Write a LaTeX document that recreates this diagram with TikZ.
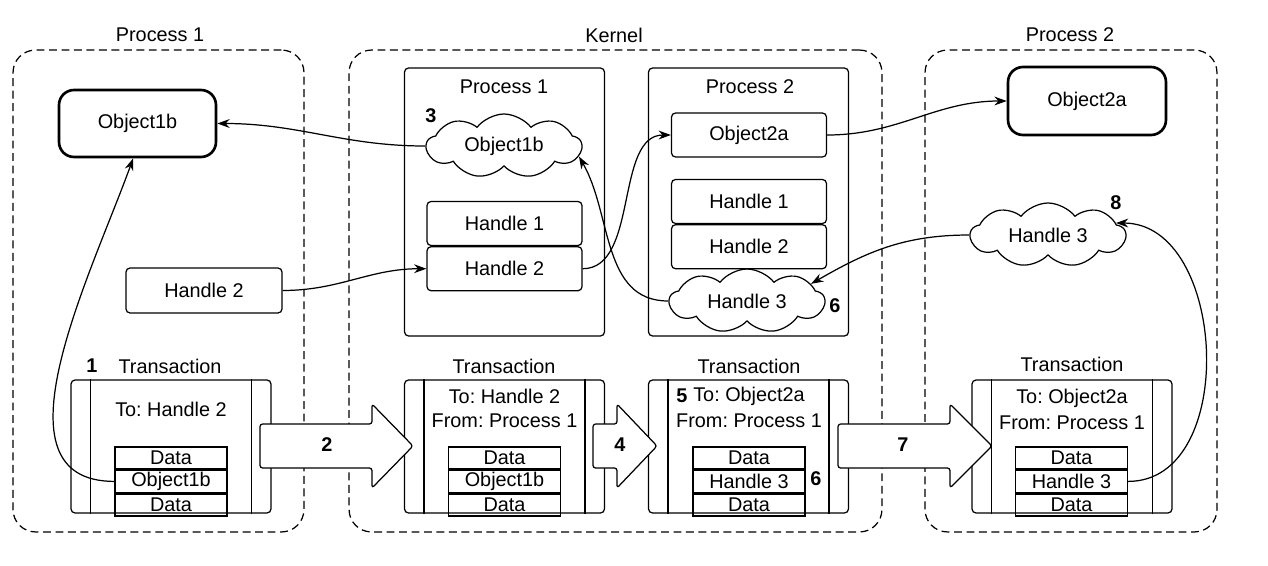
\documentclass[tikz,border=0pt]{standalone}
\usepackage{fontspec}
\setmainfont{Liberation Sans}
\usetikzlibrary{arrows.meta,positioning,shapes.symbols,calc}
\frenchspacing

\begin{document}
\begin{tikzpicture}[
  x=0.02cm,y=-0.02cm,
  font=\fontsize{11.3}{13.5}\selectfont,
  region/.style={draw,dash pattern=on 4.5pt off 2.6pt,rounded corners=0.45cm,line width=0.7pt},
  kbox/.style={draw,rounded corners=0.08cm,line width=0.7pt,minimum width=4cm,minimum height=5.36cm},
  hbox/.style={draw,rounded corners=0.08cm,line width=0.7pt,minimum width=3.1cm,minimum height=0.88cm},
  objbox/.style={draw,rounded corners=0.3cm,line width=1.5pt,minimum width=3.14cm,minimum height=1.34cm},
  blob/.style={draw,cloud,cloud puffs=9,cloud puff arc=105,cloud ignores aspect,line width=0.7pt,
               minimum width=3.1cm,minimum height=1.28cm},
  tbox/.style={draw,rounded corners=0.08cm,line width=0.7pt,minimum width=4cm,minimum height=2.66cm},
  cell/.style={draw,line width=0.8pt,minimum width=2.24cm,minimum height=0.44cm,inner sep=0pt},
  num/.style={font=\fontsize{11.3}{13.5}\selectfont\bfseries},
  link/.style={-{Stealth[length=7pt,width=5pt]},line width=0.7pt},
  bigarrow/.style={draw,fill=white,line width=0.7pt,rounded corners=1.5pt,line join=round}
]
\useasboundingbox (0,0) rectangle (1268,565);

% address spaces
\node[region,minimum width=5.82cm,minimum height=9.64cm] (proc1) at (158.5,291) {};
\node[region,minimum width=10.66cm,minimum height=9.64cm] (kernel) at (615.5,291) {};
\node[region,minimum width=5.84cm,minimum height=9.64cm] (proc2) at (1071,291) {};
\node (proc1lbl) at (160,35) {Process 1};
\node (kernellbl) at (614,35) {Kernel};
\node (proc2lbl) at (1070,35) {Process 2};

% process 1
\node[objbox] (p1obj) at (137.5,123.5) {Object1b};
\node[hbox,minimum width=3.12cm,minimum height=0.9cm] (p1h2) at (204,290.5) {Handle 2};

% kernel tables
\node[kbox] (kp1) at (504.5,202) {};
\node (kp1lbl) at (504,87) {Process 1};
\node[blob] (kp1obj) at (504,146) {Object1b};
\node[num] (n3) at (431,116) {3};
\node[hbox] (kp1h1) at (504.5,223.5) {Handle 1};
\node[hbox,below=0pt of kp1h1] (kp1h2) {Handle 2};

\node[kbox] (kp2) at (748.5,202) {};
\node (kp2lbl) at (750,87) {Process 2};
\node[hbox] (kp2obj) at (749,135) {Object2a};
\node[hbox] (kp2h1) at (749,201.5) {Handle 1};
\node[hbox,below=0pt of kp2h1] (kp2h2) {Handle 2};
\node[blob] (kp2h3) at (747,301) {Handle 3};
\node[num] (n6a) at (835,306) {6};

% process 2
\node[objbox,minimum width=3.16cm,minimum height=1.36cm] (p2obj) at (1087,101) {Object2a};
\node[blob] (p2h3) at (1048,235) {Handle 3};
\node[num] (n8) at (1116,203) {8};

% transactions
\node[tbox] (t1) at (171,446.5) {};
\node (t1lbl) at (170,366) {Transaction};
\node[num] (n1) at (92,366) {1};
\node (t1to) at (171,409) {To: Handle 2};
\node[cell] (t1a) at (171,458) {Data};
\node[cell,below=0pt of t1a] (t1b) {Object1b};
\node[cell,below=0pt of t1b] (t1c) {Data};

\node[tbox] (t2) at (504.5,446.5) {};
\node (t2lbl) at (504,366) {Transaction};
\node (t2to) at (504.5,396) {To: Handle 2};
\node (t2from) at (504.5,421) {From: Process 1};
\node[cell] (t2a) at (504.5,458) {Data};
\node[cell,below=0pt of t2a] (t2b) {Object1b};
\node[cell,below=0pt of t2b] (t2c) {Data};

\node[tbox] (t3) at (748.5,446.5) {};
\node (t3lbl) at (749,366) {Transaction};
\node (t3to) at (749,396) {To: Object2a};
\node[num] (n5) at (682,396) {5};
\node (t3from) at (749,421) {From: Process 1};
\node[cell] (t3a) at (749,458) {Data};
\node[cell,below=0pt of t3a] (t3b) {Handle 3};
\node[cell,below=0pt of t3b] (t3c) {Data};
\node[num] (n6b) at (816,479) {6};

\node[tbox] (t4) at (1072,446.5) {};
\node (t4lbl) at (1072,364) {Transaction};
\node (t4to) at (1072,398) {To: Object2a};
\node (t4from) at (1072,423) {From: Process 1};
\node[cell] (t4a) at (1071.5,458) {Data};
\node[cell,below=0pt of t4a] (t4b) {Handle 3};
\node[cell,below=0pt of t4b] (t4c) {Data};

\foreach \t in {t1,t2,t3,t4} {
  \draw[line width=0.7pt] ($(\t.north west)+(20,0)$) -- ($(\t.south west)+(20,0)$);
  \draw[line width=0.7pt] ($(\t.north east)+(-20,0)$) -- ($(\t.south east)+(-20,0)$);
}

% copy steps
\foreach \xa/\xh/\xb/\xl/\lbl in {260/372/413/327/2, 593/617/657/620/4, 838/950/992/903/7} {
  \draw[bigarrow] (\xa,424) -- (\xh,424) -- (\xh,404) -- (\xb,446) -- (\xh,488)
                  -- (\xh,468) -- (\xa,468) -- cycle;
  \node[num] (arr\lbl) at (\xl,445) {\lbl};
}

% references
\draw[link] (t1b.west) to[out=180,in=-110] (p1obj.263);
\draw[link] (kp1obj.west) to[out=180,in=0] (p1obj.east);
\draw[link] (p1h2.east) to[out=0,in=180] (kp1h2.west);
\draw[link] (kp1h2.east) to[out=0,in=180,looseness=0.9] (kp2obj.west);
\draw[link] (kp2h3.west) to[out=180,in=-60] (kp1obj.-8);
\draw[link] (kp2obj.east) to[out=0,in=180] (p2obj.west);
\draw[link] (p2h3.west) to[out=180,in=30] (kp2h3.15);
\draw[link] (t4b.east) to[out=0,in=0,looseness=1.1] (p2h3.10);
\end{tikzpicture}
\end{document}
